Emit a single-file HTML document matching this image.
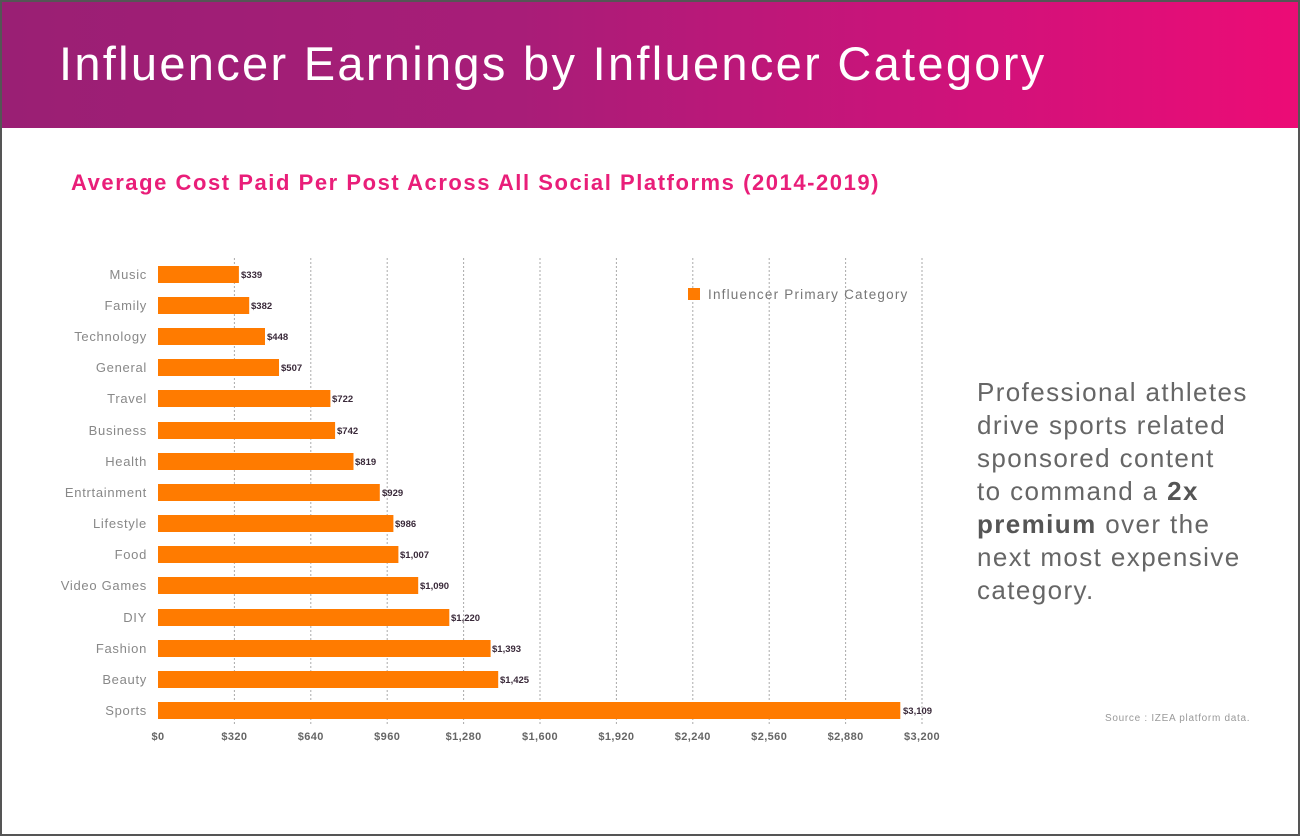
<!DOCTYPE html>
<html><head><meta charset="utf-8"><style>
body{margin:0;width:1300px;height:836px;overflow:hidden;background:#fff;font-family:"Liberation Sans",sans-serif}
.frame{position:absolute;left:0;top:0;width:1296px;height:832px;border:2px solid #555;border-right-width:2px}
.hdr{position:absolute;left:2px;top:2px;width:1296px;height:126px;background:linear-gradient(90deg,#9a1f74 0%,#a81d78 40%,#d0127a 75%,#ec0c76 100%)}
.hdr div{position:absolute;left:57px;top:34px;color:#fff;font-size:47px;letter-spacing:2.3px;white-space:nowrap}
.sub{position:absolute;left:71px;top:170px;color:#e91e79;font-size:22px;font-weight:bold;letter-spacing:1.55px;white-space:nowrap}
.side{position:absolute;left:977px;top:376px;color:#666;font-size:26px;line-height:33px;letter-spacing:1.4px;white-space:nowrap}
.side b{color:#555}
.src{position:absolute;left:1105px;top:713px;color:#999;font-size:10px;letter-spacing:0.7px;white-space:nowrap}
</style></head><body>
<div class="frame"></div>
<div class="hdr"><div>Influencer Earnings by Influencer Category</div></div>
<div class="sub">Average Cost Paid Per Post Across All Social Platforms (2014-2019)</div>
<svg width="1300" height="836" style="position:absolute;left:0;top:0" font-family="Liberation Sans, sans-serif">
<g stroke="#aaa" stroke-dasharray="2,2" stroke-width="1">
<line x1="234.4" y1="258" x2="234.4" y2="724"/><line x1="310.8" y1="258" x2="310.8" y2="724"/><line x1="387.2" y1="258" x2="387.2" y2="724"/><line x1="463.6" y1="258" x2="463.6" y2="724"/><line x1="540" y1="258" x2="540" y2="724"/><line x1="616.4" y1="258" x2="616.4" y2="724"/><line x1="692.8" y1="258" x2="692.8" y2="724"/><line x1="769.2" y1="258" x2="769.2" y2="724"/><line x1="845.6" y1="258" x2="845.6" y2="724"/><line x1="922" y1="258" x2="922" y2="724"/>
</g>
<g font-size="13" fill="#888" text-anchor="end" letter-spacing="0.7">
<text x="147" y="279">Music</text><text x="147" y="310">Family</text><text x="147" y="341">Technology</text><text x="147" y="372">General</text><text x="147" y="403">Travel</text><text x="147" y="435">Business</text><text x="147" y="466">Health</text><text x="147" y="497">Entrtainment</text><text x="147" y="528">Lifestyle</text><text x="147" y="559">Food</text><text x="147" y="590">Video Games</text><text x="147" y="622">DIY</text><text x="147" y="653">Fashion</text><text x="147" y="684">Beauty</text><text x="147" y="715">Sports</text>
</g>
<g fill="#ff7b00">
<rect x="158" y="266" width="80.9" height="17"/><rect x="158" y="297" width="91.2" height="17"/><rect x="158" y="328" width="107" height="17"/><rect x="158" y="359" width="121" height="17"/><rect x="158" y="390" width="172.4" height="17"/><rect x="158" y="422" width="177.1" height="17"/><rect x="158" y="453" width="195.5" height="17"/><rect x="158" y="484" width="221.8" height="17"/><rect x="158" y="515" width="235.4" height="17"/><rect x="158" y="546" width="240.4" height="17"/><rect x="158" y="577" width="260.2" height="17"/><rect x="158" y="609" width="291.3" height="17"/><rect x="158" y="640" width="332.6" height="17"/><rect x="158" y="671" width="340.2" height="17"/><rect x="158" y="702" width="742.3" height="17"/>
</g>
<g font-size="9.5" font-weight="bold" fill="#3a2a3a">
<text x="241" y="278">$339</text><text x="251" y="309">$382</text><text x="267" y="340">$448</text><text x="281" y="371">$507</text><text x="332" y="402">$722</text><text x="337" y="434">$742</text><text x="355" y="465">$819</text><text x="382" y="496">$929</text><text x="395" y="527">$986</text><text x="400" y="558">$1,007</text><text x="420" y="589">$1,090</text><text x="451" y="621">$1,220</text><text x="492" y="652">$1,393</text><text x="500" y="683">$1,425</text><text x="903" y="714">$3,109</text>
</g>
<g font-size="11" font-weight="bold" fill="#666" text-anchor="middle" letter-spacing="0.4">
<text x="158" y="740">$0</text><text x="234.4" y="740">$320</text><text x="310.8" y="740">$640</text><text x="387.2" y="740">$960</text><text x="463.6" y="740">$1,280</text><text x="540" y="740">$1,600</text><text x="616.4" y="740">$1,920</text><text x="692.8" y="740">$2,240</text><text x="769.2" y="740">$2,560</text><text x="845.6" y="740">$2,880</text><text x="922" y="740">$3,200</text>
</g>
<rect x="688" y="288" width="12" height="12" fill="#ff7b00"/>
<text x="708" y="299" font-size="13.5" fill="#777" letter-spacing="1.2">Influencer Primary Category</text>
</svg>
<div class="side">Professional athletes<br>drive sports related<br>sponsored content<br>to command a <b>2x<br>premium</b> over the<br>next most expensive<br>category.</div>
<div class="src">Source : IZEA platform data.</div>
</body></html>
